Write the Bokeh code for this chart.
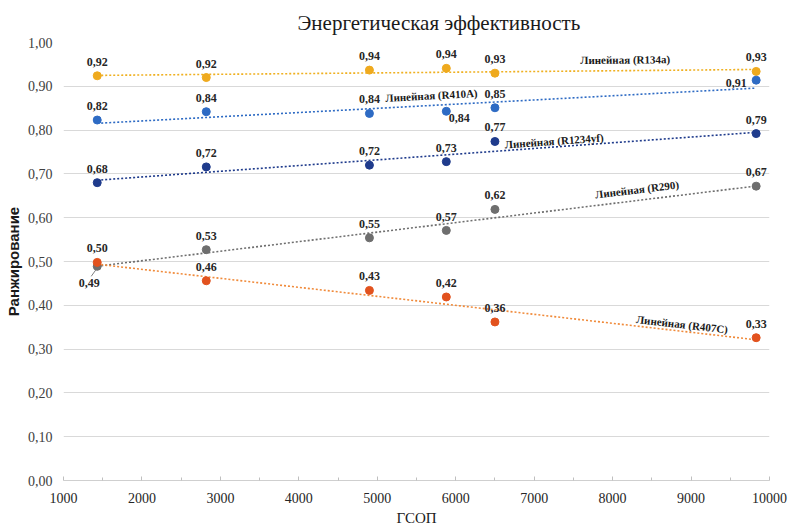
import math
import numpy as np
from bokeh.plotting import figure
from bokeh.models import ColumnDataSource, FixedTicker, CustomJSTickFormatter, Range1d
from bokeh.core.properties import value
from bokeh.embed import file_html
from bokeh.resources import INLINE

# ГСОП values (x) shared by all refrigerants
gsop = [1430, 2820, 4900, 5880, 6500, 9830]

# Ranking values per refrigerant
r134a = [0.924, 0.920, 0.937, 0.941, 0.930, 0.934]
r410a = [0.823, 0.842, 0.838, 0.843, 0.851, 0.914]
r1234yf = [0.680, 0.716, 0.720, 0.728, 0.774, 0.792]
r290 = [0.489, 0.527, 0.554, 0.571, 0.619, 0.672]
r407c = [0.498, 0.456, 0.434, 0.419, 0.362, 0.326]

series_names = ["R134a", "R410A", "R1234yf", "R290", "R407C"]
series_values = [r134a, r410a, r1234yf, r290, r407c]

x_ticks = [1000, 2000, 3000, 4000, 5000, 6000, 7000, 8000, 9000, 10000]
y_ticks = [0.0, 0.1, 0.2, 0.3, 0.4, 0.5, 0.6, 0.7, 0.8, 0.9, 1.0]

title_text = "Энергетическая эффективность"
x_title = "ГСОП"
y_title = "Ранжирование"

# --- styling -------------------------------------------------------------
marker_colors = ["#EFAA1E", "#2E6BC4", "#1F3B8C", "#6E6E6E", "#E2521E"]
trend_colors = ["#EFB020", "#2E6BC4", "#1F3B8C", "#6E6E6E", "#F08A3A"]

# pixel offsets of value labels relative to their points (dx, dy)
label_offsets = [
    [(0, -14)] * 6,
    [(0, -14), (0, -14), (0, -14), (13, 7), (0, -14), (-20, 3)],
    [(0, -14)] * 6,
    [(-8, 17), (0, -14), (0, -14), (0, -13), (0, -14), (0, -14)],
    [(0, -14)] * 6,
]
# where each trend caption sits along its line, and its lift in pixels
trend_label_x = [8160, 5690, 7255, 8310, 8885]
trend_label_lift = [-11, -10, -6, -11, -7]

W, H = 789, 528
B_LEFT, B_RIGHT, B_TOP, B_BOTTOM = 63, 20, 42, 48
frame_w = W - B_LEFT - B_RIGHT
frame_h = H - B_TOP - B_BOTTOM
x0, x1 = 1000, 10000
y0, y1 = 0.0, 1.0
px_per_x = frame_w / (x1 - x0)
px_per_y = frame_h / (y1 - y0)

serif = "Liberation Serif"

p = figure(width=W, height=H, output_backend="svg", toolbar_location=None,
           x_range=Range1d(x0, x1), y_range=Range1d(y0, y1),
           min_border_left=B_LEFT, min_border_right=B_RIGHT,
           min_border_top=B_TOP, min_border_bottom=B_BOTTOM)
p.background_fill_color = "white"
p.border_fill_color = "white"
p.outline_line_color = None

p.title.text = title_text
p.title.text_font = serif
p.title.text_font_size = "21px"
p.title.text_font_style = "normal"
p.title.text_color = "#1a1a1a"
p.title.align = "left"
p.title.offset = 234
p.title.standoff = 16

# grid
p.xgrid.grid_line_color = None
p.ygrid.grid_line_color = "#D9D9D9"
p.ygrid.grid_line_width = 1
p.ygrid.ticker = FixedTicker(ticks=y_ticks)

fmt_comma = CustomJSTickFormatter(code="return tick.toFixed(2).replace('.', ',');")

# x axis
p.xaxis.ticker = FixedTicker(ticks=x_ticks,
                             minor_ticks=[v + 500 for v in x_ticks[:-1]])
p.xaxis.axis_line_color = "#CFCFCF"
p.xaxis.major_tick_line_color = "#BFBFBF"
p.xaxis.minor_tick_line_color = "#BFBFBF"
p.xaxis.major_tick_in = 4
p.xaxis.major_tick_out = 0
p.xaxis.minor_tick_in = 3
p.xaxis.minor_tick_out = 0
p.xaxis.major_label_text_font = serif
p.xaxis.major_label_text_font_size = "14px"
p.xaxis.major_label_text_color = "#262626"
p.xaxis.major_label_standoff = 12
p.xaxis.axis_label = x_title
p.xaxis.axis_label_text_font = serif
p.xaxis.axis_label_text_font_size = "15px"
p.xaxis.axis_label_text_font_style = "normal"
p.xaxis.axis_label_text_color = "#1a1a1a"
p.xaxis.axis_label_standoff = 4

# y axis
p.yaxis.ticker = FixedTicker(ticks=y_ticks)
p.yaxis.formatter = fmt_comma
p.yaxis.axis_line_color = None
p.yaxis.major_tick_line_color = None
p.yaxis.minor_tick_line_color = None
p.yaxis.major_label_text_font = serif
p.yaxis.major_label_text_font_size = "14px"
p.yaxis.major_label_text_color = "#404040"
p.yaxis.major_label_standoff = 5
p.yaxis.axis_label = y_title
p.yaxis.axis_label_text_font = "Liberation Sans"
p.yaxis.axis_label_text_font_size = "15px"
p.yaxis.axis_label_text_font_style = "bold"
p.yaxis.axis_label_text_color = "#1a1a1a"
p.yaxis.axis_label_standoff = 3

xs = np.array(gsop, dtype=float)

# linear trend lines
for name, vals, tc, lx, lift in zip(series_names, series_values, trend_colors,
                                    trend_label_x, trend_label_lift):
    k, b = np.polyfit(xs, np.array(vals), 1)
    tx = [xs.min(), xs.max()]
    p.line(tx, [k * t + b for t in tx], line_color=tc, line_width=1.6,
           line_dash="2 2")
    ang = math.atan(k * px_per_y / px_per_x)
    p.text(x=[lx], y=[k * lx + b], text=[f"Линейная ({name})"],
           y_offset=lift, angle=ang,
           text_font=value(serif), text_font_size="11px",
           text_font_style="bold", text_color="#1a1a1a",
           text_align="center", text_baseline="middle")

# leader line for the R290 first-point label
xa, ya = gsop[0], r290[0]
p.segment(x0=[xa - 6 / px_per_x], y0=[ya - 10 / px_per_y],
          x1=[xa - 1 / px_per_x], y1=[ya - 3 / px_per_y],
          line_color="#7F7F7F", line_width=1)

# points and value labels
for vals, mc, offs in zip(series_values, marker_colors, label_offsets):
    src = ColumnDataSource(dict(
        x=gsop, y=vals,
        lbl=[f"{v:.2f}".replace(".", ",") for v in vals],
        dx=[o[0] for o in offs], dy=[o[1] for o in offs],
    ))
    p.scatter("x", "y", source=src, size=8, fill_color=mc, line_color=mc)
    p.text("x", "y", text="lbl", source=src, x_offset="dx", y_offset="dy",
           text_font=value(serif), text_font_size="12px",
           text_font_style="bold", text_color="#262626",
           text_align="center", text_baseline="middle")

open("out.html", "w").write(file_html(p, INLINE))
